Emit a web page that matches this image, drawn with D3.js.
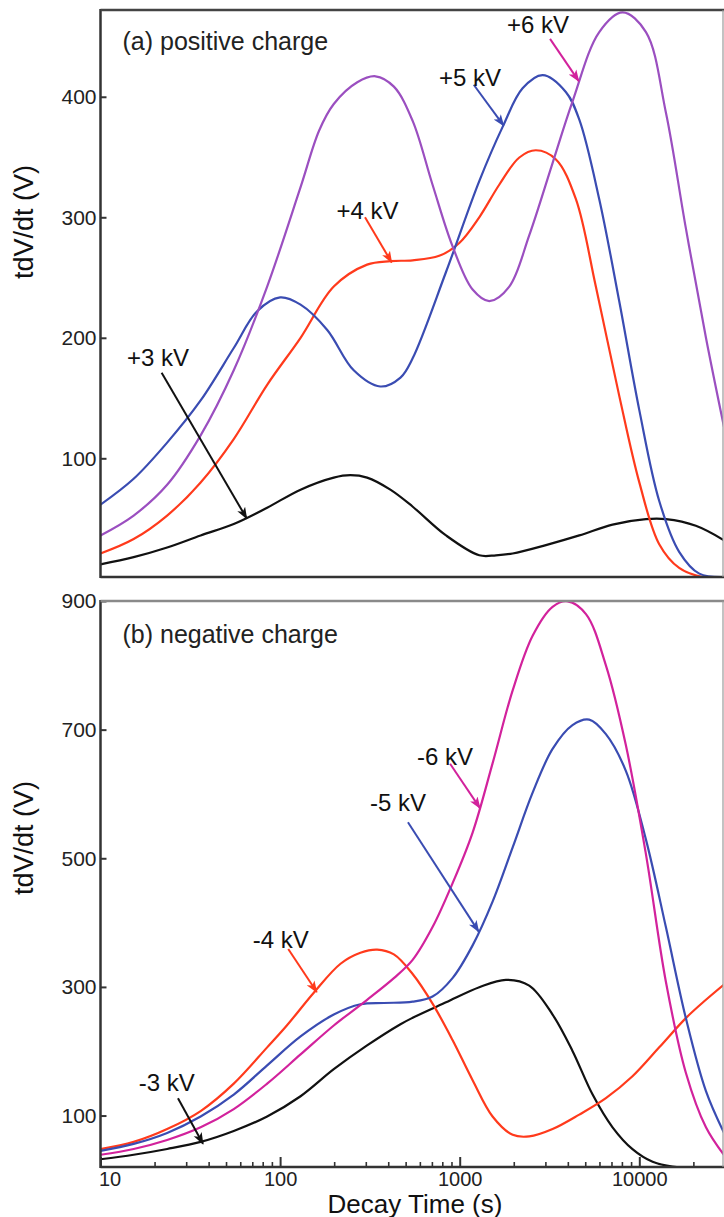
<!DOCTYPE html>
<html>
<head>
<meta charset="utf-8">
<script src="https://cdn.jsdelivr.net/npm/d3@7"></script>
<style>
  html, body { margin: 0; padding: 0; background: #fff; }
  svg { display: block; font-family: "Liberation Sans", Arial, Helvetica, sans-serif; }
</style>
</head>
<body>
<svg id="chart" width="724" height="1217"></svg>
<script>
// ---- (a) positive charge: [decay time (s), tdV/dt (V)] ----
const pos3kV = [[10,12],[15.3,18],[23.5,26],[36.1,36],[55.2,45.5],[84.7,59],[130,74],[199,84],[246,86],[305,84],[411,74],[546,60],[839,36],[1285,19.5],[1592,19.5],[1972,21],[3020,28],[4634,36],[7096,45],[10890,49.5],[14060,49.5],[20650,44],[30000,31.5]];
const pos4kV = [[10,21],[15.3,33],[23.5,52.5],[36.1,80],[55.2,116],[84.7,161],[130,200],[199,242.5],[305,260.7],[411,263.6],[547,264.3],[769,268],[995,278.7],[1285,300],[1660,327],[2148,349.6],[2655,355.6],[3436,348],[4436,315],[5728,242.5],[7727,152],[10000,80],[12910,28.7],[16670,9],[22490,1.5],[30000,1.5]];
const pos5kV = [[10,61.5],[15.3,83],[23.5,113],[36.1,148],[55.2,191.5],[74.5,222],[100,233.5],[130,227.5],[183,206.5],[257,173],[361,159.6],[468,167],[547,183],[839,254.6],[1285,330],[1734,375],[2239,407],[2897,418],[3899,404],[4634,381],[5984,315],[7727,230.5],[10000,140],[12910,64.6],[16670,22.4],[21580,4.3],[30000,1.5]];
const pos6kV = [[10,36],[15.3,52.5],[23.5,78],[36.1,119],[55.2,173],[84.7,242.5],[130,325],[165,372],[199,394],[269,412],[340,417],[430,408.4],[547,380],[706,327],[912,276],[1180,240],[1462,230.5],[1888,242.5],[2438,285],[3289,345],[4246,396],[5984,453.7],[8072,470],[10890,453.7],[14060,387],[18160,291],[23500,200],[30000,122]];

// ---- (b) negative charge ----
const neg3kV = [[10,32],[15.3,39],[23.5,48],[36.1,59],[55.2,76],[84.7,98.6],[130,130],[199,172],[305,209],[468,242],[547,252],[839,276],[1285,299.5],[1807,311],[2438,302],[3289,257],[4246,200.5],[5495,132.6],[7096,81.7],[9162,47.7],[11860,28],[15310,20.6],[30000,20]];
const neg4kV = [[10,47.7],[15.3,59],[23.5,79],[36.1,107],[55.2,149.6],[84.7,206],[109,240],[154,291],[217,336],[280,353],[347,358],[430,350.5],[547,320],[706,274],[912,217.5],[1180,155],[1524,98.6],[1972,70],[2438,67.5],[3289,79],[4634,101.5],[6516,127],[9162,161],[12910,206],[18160,251.5],[23500,280],[30000,305]];
const neg5kV = [[10,45],[15.3,56],[23.5,73],[36.1,98.6],[55.2,132.6],[84.7,178],[130,223],[199,257],[280,273],[378,275],[547,277],[706,285],[912,313.7],[1180,364.6],[1524,432.6],[1972,517],[2547,602],[3289,670],[4246,707],[5260,715.5],[6516,693],[8414,636],[10890,529],[14060,393],[18160,251.5],[23500,138],[30000,70]];
const neg6kV = [[10,39],[15.3,48],[23.5,62],[36.1,81.7],[55.2,110],[84.7,149.6],[130,195],[199,240],[305,280],[430,313.7],[547,342],[706,393],[912,461],[1180,540],[1524,647.6],[1972,761],[2547,846],[3289,891],[3990,899.5],[5047,879.7],[6516,800],[8414,676],[10890,506],[14060,308],[18160,166.6],[23500,81.7],[30000,36.5]];

// ---- axes ----
const xMajorTicks = [10, 100, 1000, 10000];
const yTicksPos = [100, 200, 300, 400];
const yTicksNeg = [100, 300, 500, 700, 900];

// ---- curve labels: text, label anchor [t, v], arrow start [t, v], arrow tip [t, v] ----
const labelsPos = [
  { text: "+3 kV", key: "k", at: [20.9, 184], from: [21.9, 171], to: [65.2, 50] },
  { text: "+4 kV", key: "r", at: [307, 306], from: [297, 300], to: [418, 262.5] },
  { text: "+5 kV", key: "b", at: [1140, 416], from: [1197, 410], to: [1758, 376] },
  { text: "+6 kV", key: "m", at: [2729, 460], from: [3184, 448], to: [4603, 413] }
];
const labelsNeg = [
  { text: "-3 kV", key: "k", at: [23.4, 152], from: [27, 127], to: [37.2, 56] },
  { text: "-4 kV", key: "r", at: [101, 373], from: [111, 359], to: [160, 292] },
  { text: "-5 kV", key: "b", at: [453, 587], from: [515, 556], to: [1276, 386] },
  { text: "-6 kV", key: "m", at: [828, 659], from: [884, 647], to: [1297, 578] }
];

const colors = { k: "#111111", r: "#ff3a1c", b: "#3a4cb2", p: "#9b4fc0", m: "#d2229c" };

const svg = d3.select("#chart");
const x = d3.scaleLog().domain([10, 30000]).range([100.5, 725]);
const xRight = 723;

const panels = [
  {
    id: "a", title: "(a) positive charge",
    y: d3.scaleLinear().domain([1.5, 472]).range([577, 10]),
    top: 10, bottom: 577, ticks: yTicksPos, labels: labelsPos,
    series: [
      { data: pos3kV, key: "k" }, { data: pos4kV, key: "r" },
      { data: pos5kV, key: "b" }, { data: pos6kV, key: "p" }
    ],
    xAxis: false, titleY: 50, ylabelY: 222
  },
  {
    id: "b", title: "(b) negative charge",
    y: d3.scaleLinear().domain([20, 900]).range([1167, 601]),
    top: 601, bottom: 1167, ticks: yTicksNeg, labels: labelsNeg,
    series: [
      { data: neg3kV, key: "k" }, { data: neg4kV, key: "r" },
      { data: neg5kV, key: "b" }, { data: neg6kV, key: "m" }
    ],
    xAxis: true, titleY: 643, ylabelY: 838
  }
];

const defs = svg.append("defs");
Object.entries(colors).forEach(([k, c]) => {
  defs.append("marker")
    .attr("id", "arrow-" + k)
    .attr("viewBox", "0 -5 12 10")
    .attr("refX", 11).attr("refY", 0)
    .attr("markerWidth", 12).attr("markerHeight", 10)
    .attr("markerUnits", "userSpaceOnUse")
    .attr("orient", "auto")
    .append("path")
    .attr("d", "M0,-4.5L12,0L0,4.5L3,0Z")
    .attr("fill", c);
});

panels.forEach(p => {
  const y = p.y;
  const g = svg.append("g").attr("class", "panel-" + p.id);

  defs.append("clipPath").attr("id", "clip-" + p.id)
    .append("rect")
    .attr("x", x.range()[0]).attr("y", p.top)
    .attr("width", xRight - x.range()[0]).attr("height", p.bottom - p.top);

  // y axis ticks (inward) and labels
  const yAxis = d3.axisLeft(y).tickValues(p.ticks).tickSize(-6).tickPadding(10)
    .tickFormat(d3.format("d"));
  const ya = g.append("g").attr("transform", `translate(${x.range()[0]},0)`).call(yAxis);
  ya.select(".domain").remove();
  ya.selectAll(".tick line").attr("stroke", "#333").attr("stroke-width", 2);
  ya.selectAll(".tick text")
    .attr("x", -4)
    .style("font-size", "21px").attr("fill", "#222")
    .style("font-family", "'Liberation Sans', Arial, sans-serif");

  // x axis (bottom panel only)
  if (p.xAxis) {
    const minor = [];
    for (let e = 1; e <= 4; e++) {
      for (let m = 2; m <= 9; m++) {
        const v = m * Math.pow(10, e);
        if (v <= 30000) minor.push(v);
      }
    }
    const xaMinor = g.append("g").attr("transform", `translate(0,${p.bottom})`)
      .call(d3.axisBottom(x).tickValues(minor).tickSize(-5).tickFormat(""));
    xaMinor.select(".domain").remove();
    xaMinor.selectAll(".tick line").attr("stroke", "#333").attr("stroke-width", 1.6);

    const xa = g.append("g").attr("transform", `translate(0,${p.bottom})`)
      .call(d3.axisBottom(x).tickValues(xMajorTicks).tickSize(-10).tickPadding(6)
        .tickFormat(d3.format("d")));
    xa.select(".domain").remove();
    xa.selectAll(".tick line").attr("stroke", "#333").attr("stroke-width", 2);
    xa.selectAll(".tick text")
      .attr("y", 0).attr("dy", null)
      .attr("transform", "translate(0,18.5)")
      .style("font-size", "20px").attr("fill", "#222")
      .style("font-family", "'Liberation Sans', Arial, sans-serif")
      .attr("dx", d => d === 10 ? 9 : 0);
  }

  // curves
  const line = d3.line()
    .x(d => x(d[0]))
    .y(d => y(d[1]))
    .curve(d3.curveCatmullRom.alpha(0.5));

  g.append("g").attr("clip-path", `url(#clip-${p.id})`)
    .selectAll("path.curve")
    .data(p.series)
    .join("path")
    .attr("class", "curve")
    .attr("d", s => line(s.data))
    .attr("fill", "none")
    .attr("stroke", s => colors[s.key])
    .attr("stroke-width", 2.2)
    .attr("stroke-linejoin", "round");

  // frame
  const frame = g.append("g");
  const x0 = x.range()[0];
  frame.append("line").attr("x1", x0).attr("x2", x0).attr("y1", p.top - 1).attr("y2", p.bottom + 1)
    .attr("stroke", "#333").attr("stroke-width", 2.5);
  frame.append("line").attr("x1", x0).attr("x2", 724).attr("y1", p.top).attr("y2", p.top)
    .attr("stroke", p.id === "a" ? "#444" : "#8a8a8a").attr("stroke-width", 2.5);
  frame.append("line").attr("x1", x0).attr("x2", 724).attr("y1", p.bottom).attr("y2", p.bottom)
    .attr("stroke", "#333").attr("stroke-width", 2.5);
  frame.append("line").attr("x1", xRight).attr("x2", xRight).attr("y1", p.top).attr("y2", p.bottom)
    .attr("stroke", "#9a9a9a").attr("stroke-width", 1.2);

  // panel title
  g.append("text")
    .attr("x", x0 + 22).attr("y", p.titleY)
    .style("font-size", "25px").attr("fill", "#222")
    .text(p.title);

  // y axis label
  g.append("text")
    .attr("transform", `translate(33,${p.ylabelY}) rotate(-90)`)
    .attr("text-anchor", "middle")
    .style("font-size", "27px").attr("fill", "#111")
    .text("tdV/dt (V)");

  // curve labels with arrows
  const ann = g.append("g");
  p.labels.forEach(l => {
    ann.append("line")
      .attr("x1", x(l.from[0])).attr("y1", y(l.from[1]))
      .attr("x2", x(l.to[0])).attr("y2", y(l.to[1]))
      .attr("stroke", colors[l.key]).attr("stroke-width", 2)
      .attr("marker-end", `url(#arrow-${l.key})`);
    ann.append("text")
      .attr("x", x(l.at[0])).attr("y", y(l.at[1]) + 8.5)
      .attr("text-anchor", "middle")
      .style("font-size", "24px").attr("fill", "#111")
      .text(l.text);
  });
});

// x axis title
svg.append("text")
  .attr("x", 415).attr("y", 1212.5)
  .attr("text-anchor", "middle")
  .style("font-size", "26px").attr("fill", "#111")
  .text("Decay Time (s)");
</script>
</body>
</html>
